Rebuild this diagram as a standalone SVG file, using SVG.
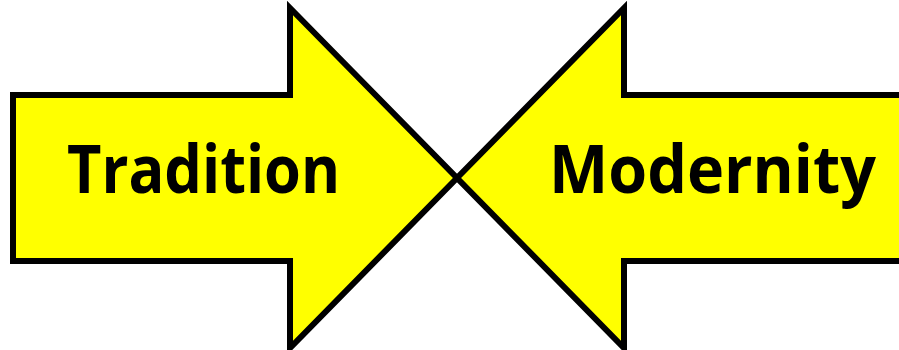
<svg xmlns="http://www.w3.org/2000/svg" width="899" height="350" viewBox="0 0 899 350">
<style>
.arrow{fill:#ffff00;stroke:#000;stroke-width:6;stroke-linejoin:miter;stroke-miterlimit:10}
.lbl{font-family:"Open Sans","Noto Sans",sans-serif;font-weight:bold;font-size:66px;fill:#000}
</style>
<rect width="899" height="350" fill="#fff"/>
<g id="tradition">
<polygon class="arrow" points="13,95 290,95 290,8 457,178 290,348 290,261 13,261"/>
<text class="lbl" x="67" y="193" textLength="273" lengthAdjust="spacingAndGlyphs">Tradition</text>
</g>
<g id="modernity">
<polygon class="arrow" points="905,95 624,95 624,8 457,178 624,348 624,261 905,261"/>
<text class="lbl" x="549" y="193" textLength="327" lengthAdjust="spacingAndGlyphs">Modernity</text>
</g>
<g id="connectors"></g>
</svg>
